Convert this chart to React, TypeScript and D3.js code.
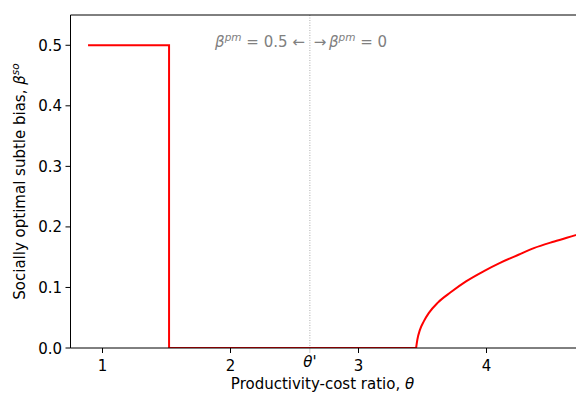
import React from "react";
import * as d3 from "d3";

// Step segment: full subtle bias at low productivity-cost ratios
const stepX = [0.887, 1.52, 1.52, 3.45];
const stepY = [0.5, 0.5, 0.0, 0.0];

// Rising branch once theta passes the threshold
const curveX = [3.45, 3.46, 3.48, 3.51, 3.55, 3.62, 3.72, 3.84, 3.98, 4.11, 4.25, 4.37, 4.53, 4.69, 4.8];
const curveY = [0.0, 0.014, 0.03, 0.044, 0.058, 0.075, 0.092, 0.11, 0.127, 0.141, 0.154, 0.165, 0.176, 0.186, 0.193];

const xTicks = [1, 2, 3, 4];
const yTicks = [0, 0.1, 0.2, 0.3, 0.4, 0.5];
const thetaPrime = 2.62;

const W = 576;
const H = 393;
const margin = { left: 70.5, top: 15, bottom: 348, right: 582.5 };
const FONT = "DejaVu Sans, sans-serif";
const FS = 15;

export default function App() {
  const x = d3.scaleLinear().domain([0.75, 4.75]).range([margin.left, margin.right]);
  const y = d3.scaleLinear().domain([0, 0.55]).range([margin.bottom, margin.top]);

  const straight = d3
    .line<[number, number]>()
    .x((d) => x(d[0]))
    .y((d) => y(d[1]));
  const smooth = d3
    .line<[number, number]>()
    .x((d) => x(d[0]))
    .y((d) => y(d[1]))
    .curve(d3.curveMonotoneX);

  const stepPts = stepX.map((v, i) => [v, stepY[i]] as [number, number]);
  const curvePts = curveX.map((v, i) => [v, curveY[i]] as [number, number]);
  const stepPath = straight(stepPts);
  const curvePath = smooth(curvePts);

  const yMid = (margin.top + margin.bottom) / 2;
  const xMid = (margin.left + margin.right) / 2;
  const tp = x(thetaPrime);

  return (
    <svg
      width={W}
      height={H}
      style={{ position: "absolute", left: 0, top: 0, background: "#fff" }}
      fontFamily={FONT}
    >
      <defs>
        <clipPath id="plot">
          <rect x={margin.left} y={margin.top} width={margin.right - margin.left} height={margin.bottom - margin.top} />
        </clipPath>
      </defs>

      {/* threshold marker */}
      <line x1={tp} x2={tp} y1={margin.top} y2={margin.bottom} stroke="#999" strokeWidth={0.8} strokeDasharray="1,1.5" />
      <line x1={tp} x2={tp} y1={margin.bottom} y2={margin.bottom + 5} stroke="#bbb" strokeWidth={0.8} />

      <g clipPath="url(#plot)">
        <path d={stepPath ?? ""} fill="none" stroke="#ff0000" strokeWidth={2} />
        <path d={curvePath ?? ""} fill="none" stroke="#ff0000" strokeWidth={2} />
      </g>

      {/* annotations */}
      <text x={tp - 5} y={47} fontSize={FS} fill="#808080" textAnchor="end">
        <tspan fontStyle="italic">β</tspan>
        <tspan fontStyle="italic" fontSize={FS * 0.7} dy={-6}>pm</tspan>
        <tspan dy={6}> = 0.5 ←</tspan>
      </text>
      <text x={tp + 4} y={47} fontSize={FS} fill="#808080" textAnchor="start">
        <tspan>→</tspan>
        <tspan fontStyle="italic" dx={2.5}>β</tspan>
        <tspan fontStyle="italic" fontSize={FS * 0.7} dy={-6}>pm</tspan>
        <tspan dy={6}> = 0</tspan>
      </text>

      {/* spines */}
      <line x1={margin.left} x2={margin.left} y1={margin.top} y2={margin.bottom} stroke="#000" strokeWidth={1} />
      <line x1={margin.left} x2={margin.right} y1={margin.top} y2={margin.top} stroke="#000" strokeWidth={1} />
      <line x1={margin.left} x2={margin.right} y1={margin.bottom} y2={margin.bottom} stroke="#000" strokeWidth={1} />

      {/* x ticks */}
      {xTicks.map((t) => (
        <g key={"x" + t}>
          <line x1={x(t)} x2={x(t)} y1={margin.bottom} y2={margin.bottom + 5} stroke="#000" strokeWidth={1} />
          <text x={x(t)} y={371} fontSize={FS} textAnchor="middle" fill="#000">
            {t}
          </text>
        </g>
      ))}
      <text x={tp} y={367} fontSize={FS} textAnchor="middle" fill="#000" fontStyle="italic">
        θ'
      </text>

      {/* y ticks */}
      {yTicks.map((t) => (
        <g key={"y" + t}>
          <line x1={margin.left - 5} x2={margin.left} y1={y(t)} y2={y(t)} stroke="#000" strokeWidth={1} />
          <text x={62} y={y(t) + 5.5} fontSize={FS} textAnchor="end" fill="#000">
            {t.toFixed(1)}
          </text>
        </g>
      ))}

      {/* axis labels */}
      <text x={xMid - 4} y={389} fontSize={FS} textAnchor="middle" fill="#000">
        Productivity-cost ratio, <tspan fontStyle="italic">θ</tspan>
      </text>
      <text
        transform={`translate(25, ${yMid}) rotate(-90)`}
        fontSize={FS}
        textAnchor="middle"
        fill="#000"
      >
        Socially optimal subtle bias, <tspan fontStyle="italic">β</tspan>
        <tspan fontStyle="italic" fontSize={FS * 0.7} dy={-6}>so</tspan>
      </text>
    </svg>
  );
}
